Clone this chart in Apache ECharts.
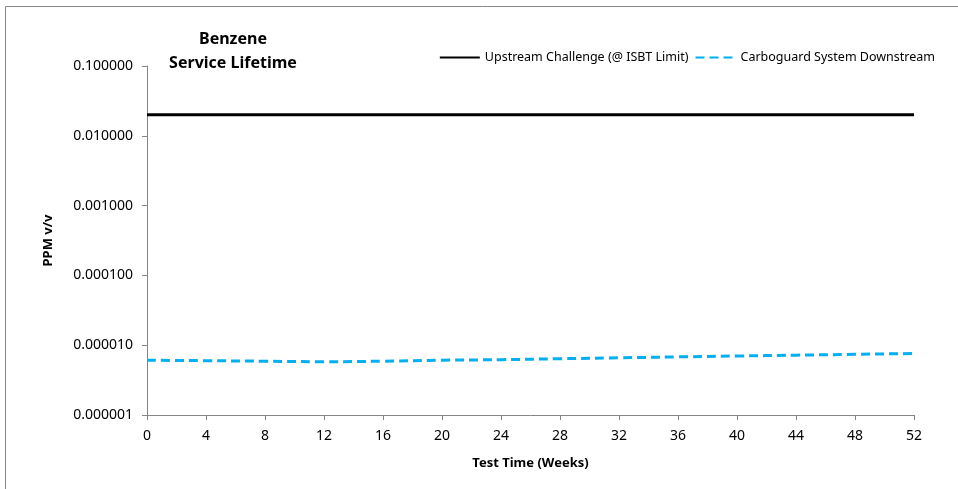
<!DOCTYPE html>
<html><head><meta charset="utf-8">
<script src="https://cdn.jsdelivr.net/npm/echarts@6/dist/echarts.min.js"></script>
<style>html,body{margin:0;padding:0;background:#fff}#c{width:958px;height:489px}</style>
</head><body><div id="c"></div>
<script>
const weeks = [0,4,8,12,16,20,24,28,32,36,40,44,48,52];
const upstream = [0.02,0.02,0.02,0.02,0.02,0.02,0.02,0.02,0.02,0.02,0.02,0.02,0.02,0.02];
const downstream = [6.1e-6,6.0e-6,5.9e-6,5.8e-6,5.9e-6,6.1e-6,6.2e-6,6.4e-6,6.6e-6,6.8e-6,7.0e-6,7.2e-6,7.4e-6,7.6e-6];
const seriesNames = ['Upstream Challenge (@ ISBT Limit)','Carboguard System Downstream'];
const titleLines = ['Benzene','Service Lifetime'];

const font = 'Noto Sans';
const chart = echarts.init(document.getElementById('c'), null, {renderer:'canvas'});
chart.setOption({
  animation:false,
  backgroundColor:'#fff',
  textStyle:{fontFamily:font},
  graphic:[{type:'rect',shape:{x:5.5,y:6.5,width:960,height:500},style:{fill:'none',stroke:'#888',lineWidth:1},silent:true}],
  title:{text:titleLines.join('\n'),left:228,top:22,textAlign:'center',
    textStyle:{fontFamily:font,fontSize:16,fontWeight:'bold',color:'#000',lineHeight:24}},
  legend:{top:46,right:18,itemWidth:40,itemHeight:8,itemGap:6,
    itemStyle:{opacity:0},
    textStyle:{fontFamily:font,fontSize:12.5,color:'#000'},
    data:seriesNames},
  grid:{left:147,right:44,top:66,bottom:74,containLabel:false},
  xAxis:{type:'value',min:0,max:52,interval:4,name:'Test Time (Weeks)',nameLocation:'middle',nameGap:42,
    nameTextStyle:{fontFamily:font,fontSize:13,fontWeight:'bold',color:'#000'},
    axisLine:{lineStyle:{color:'#868686',width:1}},
    axisTick:{show:true,length:5,lineStyle:{color:'#868686'}},
    axisLabel:{fontFamily:font,fontSize:14,color:'#000',margin:14},
    splitLine:{show:false}},
  yAxis:{type:'log',logBase:10,min:1e-6,max:0.1,name:'PPM v/v',nameLocation:'middle',nameGap:92,
    nameTextStyle:{fontFamily:font,fontSize:13,fontWeight:'bold',color:'#000'},
    axisLine:{show:true,lineStyle:{color:'#868686',width:1}},
    axisTick:{show:true,length:5,lineStyle:{color:'#868686'}},
    axisLabel:{fontFamily:font,fontSize:14,color:'#000',margin:14,formatter:v=>Number(v).toFixed(6)},
    splitLine:{show:false},minorTick:{show:false}},
  series:[
    {name:seriesNames[0],type:'line',data:weeks.map((w,i)=>[w,upstream[i]]),showSymbol:false,symbol:'none',
      lineStyle:{color:'#000',width:3},itemStyle:{color:'#000'}},
    {name:seriesNames[1],type:'line',smooth:true,data:weeks.map((w,i)=>[w,downstream[i]]),showSymbol:false,symbol:'none',
      lineStyle:{color:'#00B0F0',width:3,type:[9,5]},itemStyle:{color:'#00B0F0'}}
  ]
});
</script></body></html>
